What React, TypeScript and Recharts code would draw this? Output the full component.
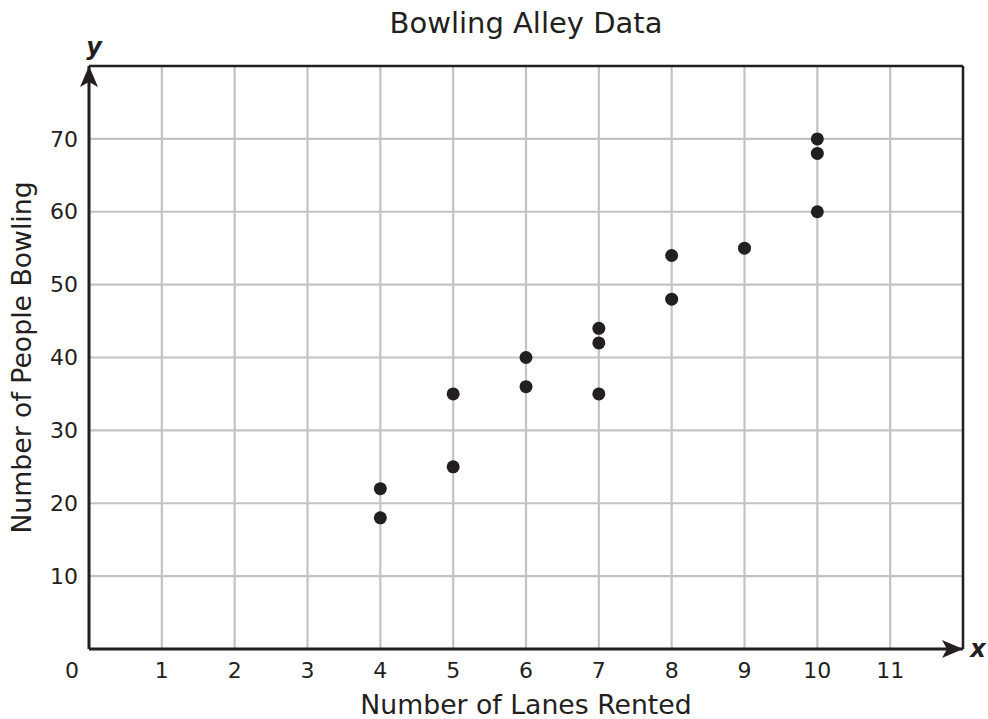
import {
  ScatterChart, Scatter, XAxis, YAxis, CartesianGrid, ReferenceLine, ReferenceDot,
} from "recharts";

const lanes = [4, 4, 5, 5, 6, 6, 7, 7, 7, 8, 8, 9, 10, 10, 10];
const people = [22, 18, 35, 25, 40, 36, 44, 42, 35, 54, 48, 55, 70, 68, 60];
const xTicks = [0, 1, 2, 3, 4, 5, 6, 7, 8, 9, 10, 11];
const yTicks = [10, 20, 30, 40, 50, 60, 70];

const title = "Bowling Alley Data";
const xLabel = "Number of Lanes Rented";
const yLabel = "Number of People Bowling";

const ink = "#231f20";
const gridGray = "#c3c3c5";
const font = "'DejaVu Sans', Verdana, sans-serif";

const points = lanes.map((x, i) => ({ x, y: people[i] }));

const XTick = (props: any) => {
  const { x, y, payload } = props;
  const shift = payload.value === 0 ? -17 : 0;
  return (
    <text x={x + shift} y={y + 21} dy="0.35em" textAnchor="middle" fontSize={22} fill={ink} fontFamily={font}>
      {payload.value}
    </text>
  );
};

const YTick = (props: any) => {
  const { x, y, payload } = props;
  return (
    <text x={x - 11} y={y} dy="0.35em" textAnchor="end" fontSize={22} fill={ink} fontFamily={font}>
      {payload.value}
    </text>
  );
};

const Dot = (props: any) => <circle cx={props.cx} cy={props.cy} r={6.5} fill={ink} />;

// arrowheads sit with their tips on the frame corners
const UpArrow = (props: any) => {
  const { cx, cy } = props;
  return (
    <g>
      <polygon points={`${cx},${cy} ${cx - 9},${cy + 21} ${cx},${cy + 16} ${cx + 9},${cy + 21}`} fill={ink} />
      <text x={cx + 5} y={cy - 19} dy="0.35em" textAnchor="middle" fontSize={24} fontWeight="bold" fontStyle="italic" fill={ink} fontFamily={font}>
        y
      </text>
    </g>
  );
};

const RightArrow = (props: any) => {
  const { cx, cy } = props;
  return (
    <g>
      <polygon points={`${cx},${cy} ${cx - 21},${cy - 9} ${cx - 16},${cy} ${cx - 21},${cy + 9}`} fill={ink} />
      <text x={cx + 15} y={cy} dy="0.35em" textAnchor="middle" fontSize={24} fontWeight="bold" fontStyle="italic" fill={ink} fontFamily={font}>
        x
      </text>
    </g>
  );
};

const App = () => {
  return (
    <div style={{ position: "absolute", top: 0, left: 0, width: 988, height: 719, fontFamily: font }}>
      <div
        style={{
          position: "absolute", top: 9, left: 89, width: 874, textAlign: "center",
          fontSize: 29, lineHeight: "29px", color: ink,
        }}
      >
        {title}
      </div>
      <ScatterChart
        width={988}
        height={719}
        margin={{ top: 66, right: 25, bottom: 10, left: 29 }}
        style={{ overflow: "visible" }}
      >
        <CartesianGrid stroke={gridGray} strokeWidth={2.2} />
        <XAxis
          type="number"
          dataKey="x"
          domain={[0, 12]}
          ticks={xTicks}
          interval={0}
          tickSize={0}
          tickMargin={0}
          tickLine={false}
          height={60}
          axisLine={{ stroke: ink, strokeWidth: 3 }}
          tick={<XTick />}
          label={(p: any) => {
            const vb = p.viewBox;
            return (
              <text x={vb.x + vb.width / 2} y={705} dy="0.35em" textAnchor="middle" fontSize={26.7} fill={ink} fontFamily={font}>
                {xLabel}
              </text>
            );
          }}
        />
        <YAxis
          type="number"
          dataKey="y"
          domain={[0, 80]}
          ticks={yTicks}
          interval={0}
          tickSize={0}
          tickMargin={0}
          tickLine={false}
          width={60}
          axisLine={{ stroke: ink, strokeWidth: 3 }}
          tick={<YTick />}
          label={(p: any) => {
            const vb = p.viewBox;
            const cy = vb.y + vb.height / 2;
            return (
              <text x={22} y={cy} dy="0.35em" textAnchor="middle" fontSize={26.7} fill={ink} fontFamily={font} transform={`rotate(-90, 22, ${cy})`}>
                {yLabel}
              </text>
            );
          }}
        />
        <ReferenceLine y={80} stroke={ink} strokeWidth={2.5} />
        <ReferenceLine x={12} stroke={ink} strokeWidth={2.5} />
        <ReferenceDot x={0} y={80} r={0} shape={<UpArrow />} ifOverflow="visible" />
        <ReferenceDot x={12} y={0} r={0} shape={<RightArrow />} ifOverflow="visible" />
        <Scatter data={points} shape={<Dot />} isAnimationActive={false} />
      </ScatterChart>
    </div>
  );
};

export default App;
